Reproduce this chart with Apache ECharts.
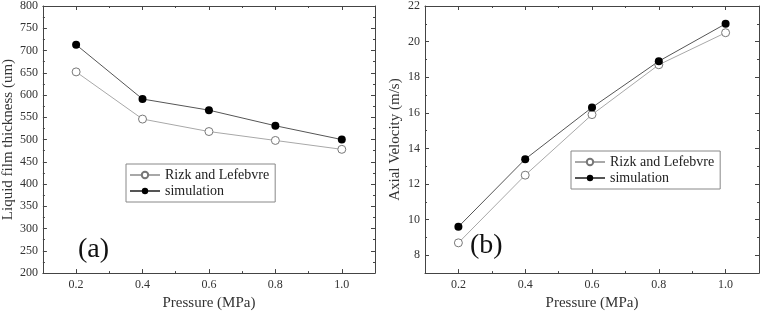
<!DOCTYPE html>
<html lang="en">

<head>
    <meta charset="UTF-8">
    <title>Pressure charts</title>
    <script src="https://cdnjs.cloudflare.com/ajax/libs/echarts/6.0.0/echarts.min.js"></script>
    <style>
        body { margin: 0; background: #fff; }
    </style>
</head>

<body>
    <div id="main" style="width: 760px;height:316px;"></div>

    <script type="text/javascript">
        // data
        const pressure = [0.2, 0.4, 0.6, 0.8, 1.0];
        const filmRizk = [652, 546, 518, 498, 478];
        const filmSim = [713, 591, 566, 531, 500];
        const velRizk = [8.7, 12.5, 15.9, 18.7, 20.5];
        const velSim = [9.6, 13.4, 16.3, 18.9, 21.0];
        const xTickLabels = [0.2, 0.4, 0.6, 0.8, 1.0];
        const velTickLabels = [8, 10, 12, 14, 16, 18, 20, 22];
        const legendNames = ['Rizk and Lefebvre', 'simulation'];

        const font = "'Liberation Serif', 'Times New Roman', serif";
        const axisColor = '#444';
        const myChart = echarts.init(document.getElementById('main'));

        function pairs(xs, ys) {
            return xs.map((x, i) => [x, ys[i]]);
        }

        // x axis: ticks from min 0.1 every 0.2 are the short ones,
        // the minor ticks land on 0.2, 0.4 ... and are drawn long
        function xAxisFor(grid, pos, withLabel) {
            return {
                type: 'value', gridIndex: grid, position: pos,
                min: 0.1, max: 1.1, interval: 0.2,
                name: withLabel ? 'Pressure (MPa)' : '',
                nameLocation: 'middle', nameGap: 20,
                nameTextStyle: { fontFamily: font, fontSize: 15, color: '#333' },
                axisLine: { show: true, onZero: false, lineStyle: { color: axisColor } },
                axisTick: { show: true, inside: true, length: 2, lineStyle: { color: axisColor } },
                minorTick: { show: true, splitNumber: 2, length: 4, lineStyle: { color: axisColor } },
                axisLabel: {
                    show: withLabel, customValues: xTickLabels, margin: 6,
                    fontFamily: font, fontSize: 12, color: '#333',
                    formatter: v => v.toFixed(1)
                },
                splitLine: { show: false },
                minorSplitLine: { show: false }
            };
        }

        function yAxisFor(grid, pos, withLabel, opts) {
            return Object.assign({
                type: 'value', gridIndex: grid, position: pos,
                nameLocation: 'middle', nameRotate: 90,
                nameTextStyle: { fontFamily: font, fontSize: 15, color: '#333' },
                axisLine: { show: true, onZero: false, lineStyle: { color: axisColor } },
                axisTick: { show: true, inside: true, length: 4, lineStyle: { color: axisColor } },
                minorTick: { show: true, splitNumber: 2, length: 2, lineStyle: { color: axisColor } },
                splitLine: { show: false },
                minorSplitLine: { show: false }
            }, opts, {
                axisLabel: Object.assign({
                    show: withLabel, margin: 5,
                    fontFamily: font, fontSize: 12, color: '#333'
                }, opts.axisLabel || {})
            });
        }

        const rizkStyle = {
            type: 'line', symbol: 'circle', symbolSize: 8,
            lineStyle: { color: '#a8a8a8', width: 1 },
            itemStyle: { color: '#fff', borderColor: '#777', borderWidth: 1 }
        };
        const simStyle = {
            type: 'line', symbol: 'circle', symbolSize: 8,
            lineStyle: { color: '#555', width: 1 },
            itemStyle: { color: '#000' }
        };

        function legendAt(left, top) {
            return {
                data: legendNames, orient: 'vertical', left: left, top: top,
                itemWidth: 30, itemHeight: 8, itemGap: 2, padding: [4, 6, 4, 3],
                borderColor: '#888', borderWidth: 1,
                textStyle: { fontFamily: font, fontSize: 14, color: '#222', lineHeight: 14 }
            };
        }

        const option = {
            animation: false,
            textStyle: { fontFamily: font },
            grid: [
                { left: 39, top: 5, width: 336, height: 271 },
                { left: 425, top: 5, width: 334, height: 269 }
            ],
            xAxis: [
                xAxisFor(0, 'bottom', true),
                xAxisFor(0, 'top', false),
                xAxisFor(1, 'bottom', true),
                xAxisFor(1, 'top', false)
            ],
            yAxis: [
                yAxisFor(0, 'left', true, { min: 200, max: 800, interval: 50, name: 'Liquid film thickness (um)', nameGap: 22 }),
                yAxisFor(0, 'right', false, { min: 200, max: 800, interval: 50 }),
                yAxisFor(1, 'left', true, {
                    min: 7, max: 22, minInterval: 2, maxInterval: 2,
                    name: 'Axial Velocity (m/s)', nameGap: 22,
                    axisLabel: { customValues: velTickLabels }
                }),
                yAxisFor(1, 'right', false, { min: 7, max: 22, minInterval: 2, maxInterval: 2 })
            ],
            legend: [legendAt(126, 164), legendAt(571, 151)],
            graphic: [
                { type: 'text', left: 78, top: 236, style: { text: '(a)', fontFamily: font, fontSize: 28, fill: '#111' } },
                { type: 'text', left: 470, top: 232, style: { text: '(b)', fontFamily: font, fontSize: 28, fill: '#111' } }
            ],
            series: [
                Object.assign({ name: legendNames[0], xAxisIndex: 0, yAxisIndex: 0, data: pairs(pressure, filmRizk) }, rizkStyle),
                Object.assign({ name: legendNames[1], xAxisIndex: 0, yAxisIndex: 0, data: pairs(pressure, filmSim) }, simStyle),
                Object.assign({ name: legendNames[0], xAxisIndex: 2, yAxisIndex: 2, data: pairs(pressure, velRizk) }, rizkStyle),
                Object.assign({ name: legendNames[1], xAxisIndex: 2, yAxisIndex: 2, data: pairs(pressure, velSim) }, simStyle)
            ]
        };

        myChart.setOption(option);
    </script>
</body>

</html>
